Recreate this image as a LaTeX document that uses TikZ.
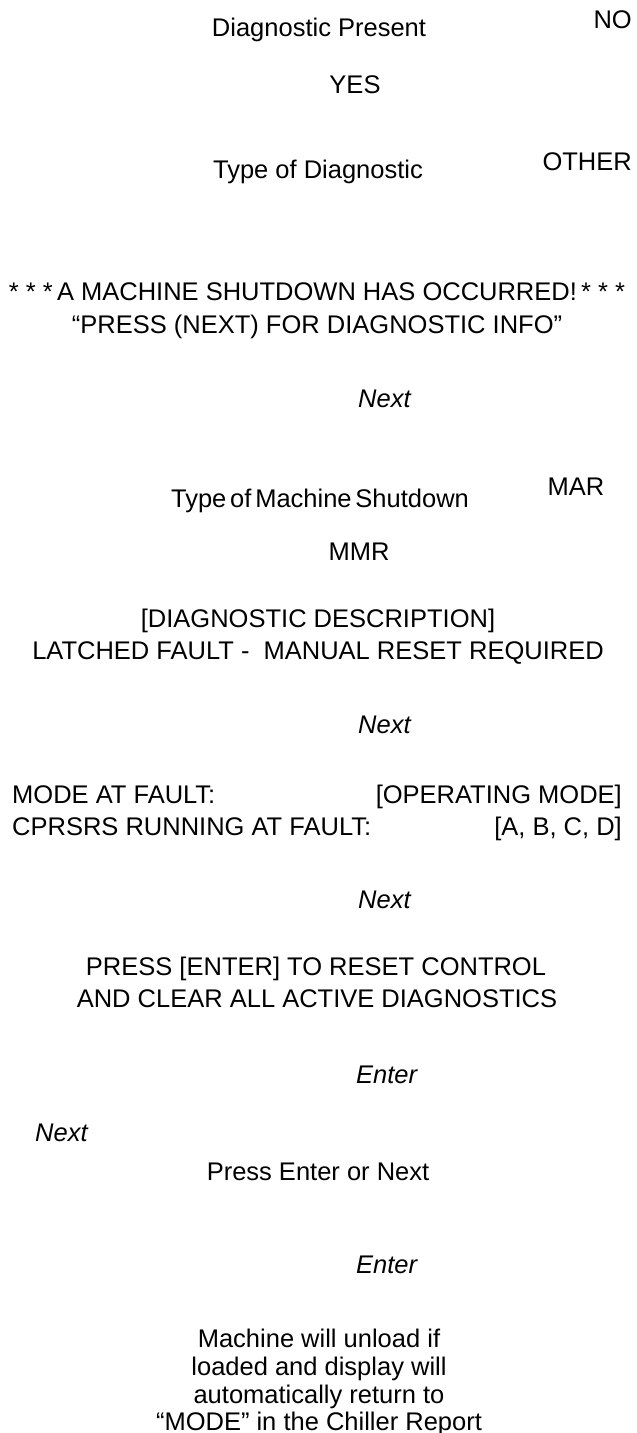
\documentclass[tikz,border=0pt]{standalone}
\usepackage{fontspec}
\setmainfont{Liberation Sans}

\begin{document}
\begin{tikzpicture}[x=1pt, y=-1pt,
    every node/.style={inner sep=0pt, font=\fontsize{25.5}{28}\selectfont},
    txt/.style={anchor=base},
    lft/.style={anchor=base west},
    rgt/.style={anchor=base east},
    key/.style={anchor=base west, font=\fontsize{25.5}{28}\selectfont\itshape}]
  \useasboundingbox (0,0) rectangle (637,1433);

  % diagnostic check
  \node[txt] (present) at (319,36) {Diagnostic Present};
  \node[rgt] (no) at (632,28) {NO};
  \node[txt] (yes) at (355,93) {YES};
  \node[txt] (dtype) at (318,178) {Type of Diagnostic};
  \node[rgt] (other) at (632,170) {OTHER};

  % shutdown screen
  \node[txt] (shut) at (317,300) {* * *\,A MACHINE SHUTDOWN HAS OCCURRED!\,* * *};
  \node[txt] (pressnext) at (317,333) {“PRESS (NEXT) FOR DIAGNOSTIC INFO”};
  \node[key] (next1) at (358,407) {Next};

  \node[txt] (mtype) at (320,507) {\spaceskip=0.15em\relax Type of Machine Shutdown};
  \node[txt] (mar) at (576,495) {MAR};
  \node[txt] (mmr) at (359,560) {MMR};

  \node[txt] (desc) at (318,627) {[DIAGNOSTIC DESCRIPTION]};
  \node[txt] (latched) at (318,659) {LATCHED FAULT -~ MANUAL RESET REQUIRED};
  \node[key] (next2) at (358,733) {Next};

  % fault data
  \node[lft] (mode) at (12,803) {MODE AT FAULT:};
  \node[rgt] (opmode) at (622,803) {[OPERATING MODE]};
  \node[lft] (cprsrs) at (12,835) {CPRSRS RUNNING AT FAULT:};
  \node[rgt] (abcd) at (622,835) {[A, B, C, D]};
  \node[key] (next3) at (358,908) {Next};

  % reset
  \node[txt] (reset) at (316,975) {PRESS [ENTER] TO RESET CONTROL};
  \node[txt] (clear) at (317,1007) {AND CLEAR ALL ACTIVE DIAGNOSTICS};
  \node[key] (enter1) at (356,1083) {Enter};
  \node[key] (next4) at (35,1141) {Next};
  \node[txt] (choice) at (318,1180) {Press Enter or Next};
  \node[key] (enter2) at (356,1273) {Enter};

  \node[txt] (unload1) at (319,1347) {Machine will unload if};
  \node[txt] (unload2) at (319,1375) {loaded and display will};
  \node[txt] (unload3) at (319,1403) {automatically return to};
  \node[txt] (unload4) at (319,1430) {“MODE” in the Chiller Report};
\end{tikzpicture}
\end{document}
